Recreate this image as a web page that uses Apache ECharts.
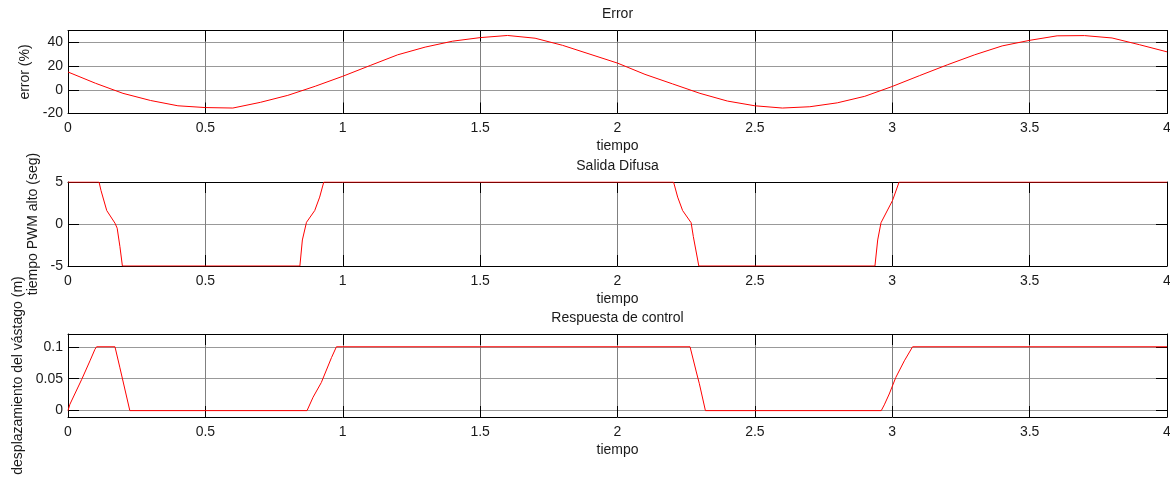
<!DOCTYPE html>
<html>
<head>
<meta charset="utf-8">
<script src="https://cdn.jsdelivr.net/npm/echarts@6/dist/echarts.min.js"></script>
<style>
html, body { margin: 0; padding: 0; background: #fff; }
#main { width: 1170px; height: 478px; }
</style>
</head>
<body>
<div id="main"></div>
<script>
// Error (%)
var errT = [0,0.1,0.2,0.3,0.4,0.5,0.6,0.7,0.8,0.9,1,1.1,1.2,1.3,1.4,1.5,1.6,1.7,1.8,1.9,2,
            2.1,2.2,2.3,2.4,2.5,2.6,2.7,2.8,2.9,3,3.1,3.2,3.3,3.4,3.5,3.6,3.7,3.8,3.9,4];
var errV = [15,5.5,-3,-9,-13.5,-15,-15.4,-10.6,-4.7,3,11.4,20.5,29.5,36,41,44,45.8,43.5,37.5,30,22.5,
            13,5,-3,-9.5,-13.5,-15.4,-14.3,-11,-5.5,2.8,12,21,29.5,37,41.7,45.5,45.7,43.7,38,32];

// Salida Difusa
var pwmT = [0,0.113,0.12,0.141,0.171,0.179,0.189,0.198,0.844,0.853,0.868,0.898,0.916,0.931,
            2.204,2.219,2.237,2.268,2.276,2.296,2.937,2.947,2.959,3.001,3.025,4];
var pwmV = [5,5,4,1.6,0.1,-0.5,-2.7,-5,-5,-1.9,0.2,1.6,3.2,5,
            5,3.2,1.6,0.15,-1.5,-5,-5,-1.9,0.15,2.8,5,5];

// Respuesta de control
var despT = [0,0.007,0.05,0.08,0.098,0.104,0.171,0.189,0.225,0.87,0.892,0.922,0.959,0.977,
             2.264,2.286,2.298,2.32,2.96,2.971,2.989,3.013,3.044,3.074,4];
var despV = [0,0.01,0.049,0.078,0.096,0.1,0.1,0.067,0,0,0.021,0.044,0.083,0.1,
             0.1,0.062,0.042,0,0,0.009,0.026,0.052,0.078,0.1,0.1];

var titles = ['Error', 'Salida Difusa', 'Respuesta de control'];
var yNames = ['error (%)', 'tiempo PWM alto (seg)', 'desplazamiento del v\u00e1stago (m)'];
var yTicks = [[-20, 0, 20, 40], [-5, 0, 5], [0, 0.05, 0.1]];
var yRange = [[-20, 50], [-5, 5], [-0.01, 0.12]];
var xName = 'tiempo';

function zip(a, b) {
    return a.map(function (v, i) { return [v, b[i]]; });
}
var seriesData = [zip(errT, errV), zip(pwmT, pwmV), zip(despT, despV)];

var font = 'Liberation Sans, Arial, sans-serif';
var txt = { fontFamily: font, fontSize: 14, color: '#1a1a1a' };
var gridTops = [30.5, 182, 334];
var gridHeights = [83, 84, 83];
var titleTops = [7.5, 159.5, 311];
var yNameGaps = [29, 25, 43];

var grid = [], xAxis = [], yAxis = [], series = [], title = [];
for (var i = 0; i < 3; i++) {
    grid.push({ left: 68, width: 1099, top: gridTops[i], height: gridHeights[i],
                containLabel: false, outerBoundsMode: 'none' });
    title.push({
        text: titles[i], left: 617.5, textAlign: 'center', top: titleTops[i], padding: 0,
        textStyle: { fontFamily: font, fontSize: 14, fontWeight: 'normal', color: '#1a1a1a' }
    });
    var line = { show: true, onZero: false, lineStyle: { color: '#000', width: 1 } };
    var tick = { show: true, inside: true, length: 11, lineStyle: { color: '#000' } };
    xAxis.push({
        type: 'value', gridIndex: i, min: 0, max: 4, interval: 0.5,
        name: xName, nameLocation: 'middle', nameGap: 26, nameTextStyle: txt,
        axisLine: line, axisTick: tick,
        axisLabel: Object.assign({ margin: 8, hideOverlap: false }, txt),
        splitLine: { show: true, lineStyle: { color: '#808080', width: 1 } }
    });
    xAxis.push({
        type: 'value', gridIndex: i, position: 'top', min: 0, max: 4, interval: 0.5,
        axisLine: line, axisTick: tick, axisLabel: { show: false }, splitLine: { show: false }
    });
    yAxis.push({
        type: 'value', gridIndex: i, min: yRange[i][0], max: yRange[i][1],
        name: yNames[i], nameLocation: 'middle', nameGap: yNameGaps[i], nameTextStyle: txt,
        axisLine: line,
        axisTick: Object.assign({ customValues: yTicks[i] }, tick),
        axisLabel: Object.assign({ customValues: yTicks[i], margin: 5 }, txt),
        splitLine: { show: true, lineStyle: { color: '#999', width: 1 } }
    });
    yAxis.push({
        type: 'value', gridIndex: i, position: 'right', min: yRange[i][0], max: yRange[i][1],
        axisLine: line,
        axisTick: Object.assign({ customValues: yTicks[i] }, tick),
        axisLabel: { show: false }, splitLine: { show: false }
    });
    series.push({
        type: 'line', xAxisIndex: i * 2, yAxisIndex: i * 2,
        data: seriesData[i], showSymbol: false, symbol: 'none',
        lineStyle: { color: '#ff0000', width: 1 }, animation: false, z: 3
    });
}

var myChart = echarts.init(document.getElementById('main'));
myChart.setOption({
    animation: false,
    title: title,
    grid: grid,
    xAxis: xAxis,
    yAxis: yAxis,
    series: series
});
</script>
</body>
</html>
